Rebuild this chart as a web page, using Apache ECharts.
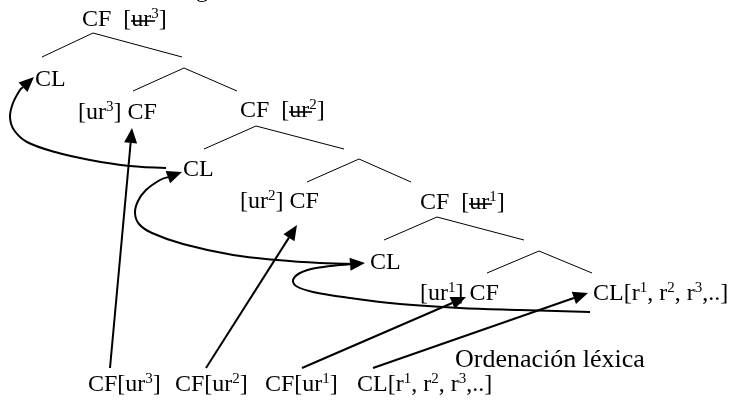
<!DOCTYPE html>
<html><head><meta charset="utf-8">
<script src="https://cdn.jsdelivr.net/npm/echarts@6/dist/echarts.min.js"></script>
<style>html,body{margin:0;padding:0;background:#fff}#c{width:732px;height:404px}</style>
</head><body><div id="c"></div>
<script>
// ---- diagram data (positions in a 732 x 404 value space) ----
const labelTexts = [
  '{n|CF  [}{n|ur}{p|3}{n|]}',
  '{n|CL}',
  '{n|[ur}{p|3}{n|] CF}',
  '{n|CF  [}{n|ur}{p|2}{n|]}',
  '{n|CL}',
  '{n|[ur}{p|2}{n|] CF}',
  '{n|CF  [}{n|ur}{p|1}{n|]}',
  '{n|CL}',
  '{n|[ur}{p|1}{n|] CF}',
  '{n|CL[r}{p|1}{n|, r}{p|2}{n|, r}{p|3}{n|,..]}',
  '{n|CF[ur}{p|3}{n|]}',
  '{n|CF[ur}{p|2}{n|]}',
  '{n|CF[ur}{p|1}{n|]}',
  '{n|CL[r}{p|1}{n|, r}{p|2}{n|, r}{p|3}{n|,..]}',
  '{o|Ordenación léxica}',
  '{n|g}'
];
const labelX = [82, 35, 78, 240, 183, 240, 420, 370, 420, 593, 88, 175, 265, 357, 455, 196];
const labelY = [20, 80, 113, 111, 170, 202, 203, 263, 294, 294, 385, 385, 385, 385, 360, -9];

const treeApex  = [[93, 33], [184, 68], [256, 126], [359, 159], [437, 217], [539, 251]];
const treeLeft  = [[42, 57], [133, 91], [204, 149], [307, 182], [384, 240], [487, 273]];
const treeRight = [[182, 57], [237, 91], [344, 149], [411, 182], [524, 240], [592, 273]];

const strikes = [
  [[131, 21], [155, 21]],
  [[289, 112], [312, 112]],
  [[469, 204], [492, 204]]
];

const straightArrows = [
  [[110, 368], [132, 128]],
  [[206, 368], [297, 225]],
  [[302, 368], [466, 297]],
  [[373, 368], [588, 293]]
];

const curvedArrows = [
  [[590, 312], [520, 310], [460, 308], [400, 304], [350, 298], [313, 292], [296, 286], [293, 280], [300, 273], [316, 268], [340, 265], [365, 263]],
  [[355, 264], [320, 263], [277, 260], [233, 255], [183, 244], [152, 233], [139, 224], [135, 213], [138, 201], [146, 190], [160, 180], [182, 172]],
  [[166, 168], [130, 166], [90, 160], [55, 152], [27, 142], [14, 130], [10, 117], [13, 103], [20, 90], [34, 77]]
];

// ---- chart ----
const FONT = '"Liberation Serif", "Times New Roman", serif';
const rich = {
  n: { fontFamily: FONT, fontSize: 24, lineHeight: 26, fill: '#000' },
  p: { fontFamily: FONT, fontSize: 15, lineHeight: 12, verticalAlign: 'top', fill: '#000' },
  o: { fontFamily: FONT, fontSize: 26, lineHeight: 28, fill: '#000' }
};

function headPolygon(tip, prev, len, half) {
  const dx = tip[0] - prev[0], dy = tip[1] - prev[1];
  const d = Math.sqrt(dx * dx + dy * dy) || 1;
  const ux = dx / d, uy = dy / d;
  const bx = tip[0] - ux * len, by = tip[1] - uy * len;
  return [tip, [bx - uy * half, by + ux * half], [bx + uy * half, by - ux * half]];
}

const chart = echarts.init(document.getElementById('c'), null, { renderer: 'canvas' });
chart.setOption({
  animation: false,
  backgroundColor: '#fff',
  grid: { left: 0, right: 0, top: 0, bottom: 0 },
  xAxis: { type: 'value', min: 0, max: 732, show: false },
  yAxis: { type: 'value', min: 0, max: 404, inverse: true, show: false },
  series: [
    {
      type: 'custom', name: 'tree',
      data: treeApex.map((a, i) => [a[0], a[1], treeLeft[i][0], treeLeft[i][1], treeRight[i][0], treeRight[i][1]]),
      renderItem: (params, api) => {
        const a = api.coord([api.value(0), api.value(1)]);
        const l = api.coord([api.value(2), api.value(3)]);
        const r = api.coord([api.value(4), api.value(5)]);
        return { type: 'polyline', shape: { points: [l, a, r] }, style: { stroke: '#000', lineWidth: 1, fill: null } };
      }
    },
    {
      type: 'custom', name: 'strikes',
      data: strikes.map(s => [s[0][0], s[0][1], s[1][0], s[1][1]]),
      renderItem: (params, api) => {
        const p0 = api.coord([api.value(0), api.value(1)]);
        const p1 = api.coord([api.value(2), api.value(3)]);
        return { type: 'line', shape: { x1: p0[0], y1: p0[1], x2: p1[0], y2: p1[1] }, style: { stroke: '#000', lineWidth: 1.6 } };
      }
    },
    {
      type: 'custom', name: 'labels',
      data: labelX.map((x, i) => [x, labelY[i], i]),
      renderItem: (params, api) => {
        const p = api.coord([api.value(0), api.value(1)]);
        return { type: 'text', x: p[0], y: p[1], style: { text: labelTexts[api.value(2)], rich: rich, align: 'left', verticalAlign: 'middle', fill: '#000', fontFamily: FONT, fontSize: 24 } };
      }
    },
    {
      type: 'custom', name: 'straightArrows',
      data: straightArrows.map(s => [s[0][0], s[0][1], s[1][0], s[1][1]]),
      renderItem: (params, api) => {
        const p0 = api.coord([api.value(0), api.value(1)]);
        const p1 = api.coord([api.value(2), api.value(3)]);
        const head = headPolygon(p1, p0, 15, 6.5);
        const base = [(head[1][0] + head[2][0]) / 2, (head[1][1] + head[2][1]) / 2];
        return { type: 'group', children: [
          { type: 'line', shape: { x1: p0[0], y1: p0[1], x2: base[0], y2: base[1] }, style: { stroke: '#000', lineWidth: 2 } },
          { type: 'polygon', shape: { points: head }, style: { fill: '#000' } }
        ] };
      }
    },
    {
      type: 'custom', name: 'curvedArrows',
      data: curvedArrows.map((c, i) => [c[0][0], c[0][1], i]),
      renderItem: (params, api) => {
        const pts = curvedArrows[api.value(2)].map(p => api.coord(p));
        const tip = pts[pts.length - 1];
        const prev = pts[pts.length - 2];
        const head = headPolygon(tip, prev, 15, 6.5);
        const linePts = pts.slice(0, -1);
        linePts.push([(head[1][0] + head[2][0]) / 2, (head[1][1] + head[2][1]) / 2]);
        return { type: 'group', children: [
          { type: 'polyline', shape: { points: linePts, smooth: 0.35 }, style: { stroke: '#000', lineWidth: 2, fill: null } },
          { type: 'polygon', shape: { points: head }, style: { fill: '#000' } }
        ] };
      }
    }
  ]
});
</script>
</body></html>
